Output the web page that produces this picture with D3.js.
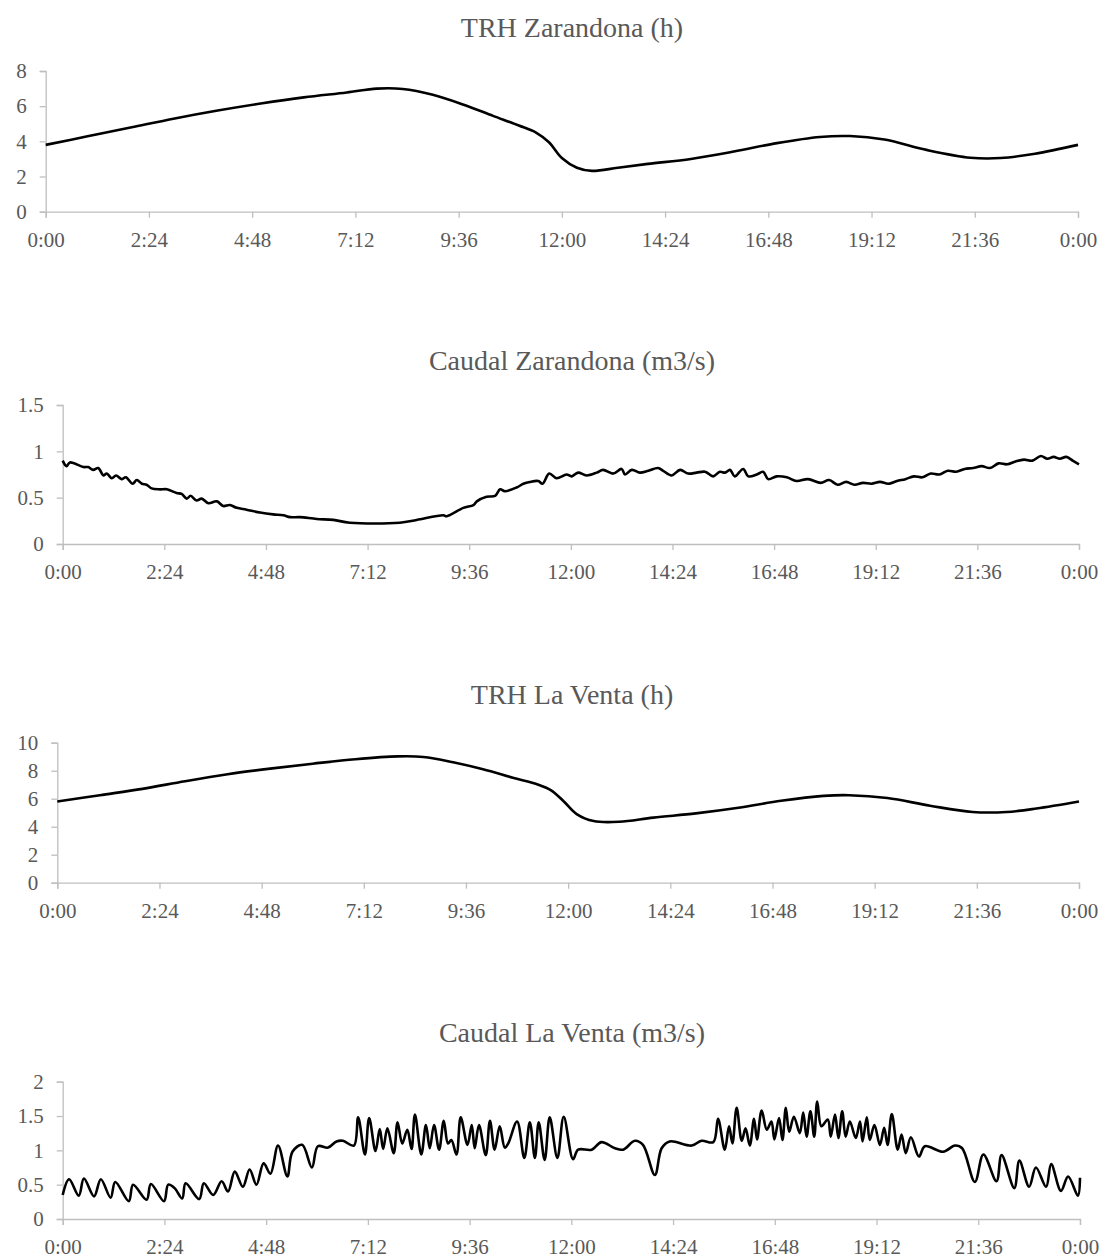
<!DOCTYPE html>
<html>
<head>
<meta charset="utf-8">
<script src="https://cdn.jsdelivr.net/npm/d3@7"></script>
<style>
  body { margin: 0; background: #fff; }
  text { font-family: "Liberation Serif", "Times New Roman", serif; }
</style>
</head>
<body>
<svg id="chart" width="1107" height="1260"></svg>
<script>
// time of day in hours (0 = 0:00, 24 = next 0:00)
const xTickHours = [0, 2.4, 4.8, 7.2, 9.6, 12, 14.4, 16.8, 19.2, 21.6, 24];
const xTickLabels = ['0:00', '2:24', '4:48', '7:12', '9:36', '12:00', '14:24', '16:48', '19:12', '21:36', '0:00'];

// TRH Zarandona (h)
const trhZarT = [0, 1, 2, 3, 4, 5, 6, 7, 7.7, 8.3, 9.0, 9.7, 10.4, 11, 11.4, 11.7, 12.0, 12.35, 12.7, 13.3, 14, 15, 16, 17, 18, 18.7, 19.5, 20.5, 21.5, 22.2, 23, 24];
const trhZarV = [3.8, 4.3, 4.8, 5.3, 5.75, 6.15, 6.5, 6.78, 7.0, 6.98, 6.65, 6.1, 5.45, 4.9, 4.5, 3.95, 3.05, 2.5, 2.32, 2.5, 2.72, 3.0, 3.42, 3.9, 4.25, 4.3, 4.1, 3.5, 3.07, 3.05, 3.3, 3.8];

// Caudal Zarandona (m3/s)
const caudalZarT = [0, 0.09, 0.17, 0.49, 0.6, 0.72, 0.84, 0.96, 1.04, 1.16, 1.26, 1.39, 1.49, 1.65, 1.75, 1.87, 1.98, 2.1, 2.3, 2.46, 2.69, 2.81, 2.93, 3.02, 3.16, 3.28, 3.44, 3.64, 3.79, 3.95, 4.11, 4.34, 4.66, 4.97, 5.21, 5.37, 5.6, 6.0, 6.39, 6.78, 7.96, 8.36, 8.99, 9.07, 9.46, 9.7, 9.78, 10.01, 10.21, 10.33, 10.44, 10.72, 10.88, 11.03, 11.23, 11.33, 11.49, 11.66, 11.9, 12.02, 12.17, 12.37, 12.61, 12.76, 13.0, 13.2, 13.28, 13.44, 13.63, 13.83, 14.06, 14.18, 14.38, 14.58, 14.77, 14.97, 15.17, 15.36, 15.52, 15.64, 15.76, 15.87, 16.07, 16.19, 16.39, 16.54, 16.66, 16.86, 17.1, 17.33, 17.6, 17.9, 18.1, 18.3, 18.5, 18.7, 18.9, 19.1, 19.3, 19.5, 19.7, 19.9, 20.1, 20.3, 20.5, 20.7, 20.9, 21.1, 21.3, 21.5, 21.7, 21.9, 22.1, 22.3, 22.5, 22.7, 22.9, 23.1, 23.25, 23.4, 23.55, 23.7, 23.85, 24];
const caudalZarV = [0.90, 0.84, 0.88, 0.83, 0.83, 0.80, 0.82, 0.74, 0.76, 0.71, 0.74, 0.70, 0.72, 0.65, 0.69, 0.65, 0.64, 0.60, 0.59, 0.59, 0.55, 0.54, 0.49, 0.52, 0.47, 0.49, 0.44, 0.46, 0.41, 0.42, 0.39, 0.37, 0.34, 0.32, 0.31, 0.29, 0.29, 0.27, 0.26, 0.23, 0.23, 0.26, 0.31, 0.30, 0.39, 0.42, 0.46, 0.51, 0.52, 0.59, 0.57, 0.61, 0.65, 0.67, 0.68, 0.65, 0.76, 0.71, 0.75, 0.73, 0.77, 0.74, 0.77, 0.80, 0.76, 0.81, 0.75, 0.80, 0.77, 0.79, 0.82, 0.79, 0.74, 0.80, 0.76, 0.77, 0.78, 0.73, 0.78, 0.77, 0.80, 0.73, 0.81, 0.73, 0.75, 0.78, 0.70, 0.73, 0.72, 0.68, 0.70, 0.66, 0.69, 0.64, 0.67, 0.64, 0.66, 0.65, 0.67, 0.65, 0.68, 0.70, 0.73, 0.72, 0.76, 0.75, 0.79, 0.78, 0.81, 0.82, 0.84, 0.82, 0.87, 0.86, 0.89, 0.91, 0.90, 0.95, 0.92, 0.94, 0.92, 0.94, 0.90, 0.86];

// TRH La Venta (h)
const trhVentaT = [0, 1, 2, 3, 4, 5, 6, 7, 8, 8.6, 9.3, 10, 10.7, 11.3, 11.6, 11.9, 12.2, 12.6, 13.2, 14, 15, 16, 17, 18, 18.6, 19.5, 20.5, 21.5, 22.3, 23, 24];
const trhVentaV = [5.8, 6.25, 6.7, 7.25, 7.75, 8.15, 8.5, 8.82, 9.02, 8.98, 8.6, 8.1, 7.5, 7.0, 6.6, 5.8, 4.9, 4.4, 4.35, 4.65, 4.95, 5.35, 5.85, 6.2, 6.25, 6.05, 5.5, 5.05, 5.05, 5.3, 5.8];

// Caudal La Venta (m3/s)
const caudalVentaT = [0, 0.15, 0.38, 0.5, 0.74, 0.9, 1.13, 1.24, 1.56, 1.66, 1.98, 2.08, 2.39, 2.49, 2.64, 2.82, 2.9, 3.22, 3.33, 3.55, 3.75, 3.9, 4.06, 4.25, 4.41, 4.57, 4.74, 4.9, 5.08, 5.3, 5.42, 5.65, 5.88, 6.02, 6.26, 6.46, 6.61, 6.87, 6.97, 7.13, 7.23, 7.38, 7.48, 7.56, 7.66, 7.81, 7.9, 8.01, 8.13, 8.23, 8.31, 8.46, 8.57, 8.66, 8.76, 8.88, 8.99, 9.09, 9.17, 9.29, 9.39, 9.55, 9.65, 9.72, 9.82, 9.98, 10.08, 10.19, 10.31, 10.43, 10.51, 10.72, 10.89, 11.02, 11.14, 11.23, 11.37, 11.49, 11.67, 11.82, 12.04, 12.16, 12.48, 12.71, 13.03, 13.22, 13.5, 13.69, 13.97, 14.13, 14.32, 14.84, 15.07, 15.35, 15.46, 15.62, 15.72, 15.8, 15.9, 16.02, 16.11, 16.21, 16.31, 16.38, 16.49, 16.61, 16.72, 16.79, 16.9, 16.98, 17.06, 17.14, 17.25, 17.39, 17.47, 17.55, 17.64, 17.73, 17.8, 17.9, 18.05, 18.12, 18.22, 18.3, 18.39, 18.47, 18.57, 18.71, 18.81, 18.87, 18.97, 19.04, 19.15, 19.28, 19.38, 19.46, 19.56, 19.7, 19.79, 19.89, 20.01, 20.2, 20.34, 20.77, 21.05, 21.22, 21.52, 21.72, 22.03, 22.15, 22.45, 22.57, 22.8, 22.96, 23.2, 23.32, 23.55, 23.72, 23.95, 24];
const caudalVentaV = [0.35, 0.58, 0.34, 0.59, 0.33, 0.58, 0.31, 0.54, 0.26, 0.50, 0.28, 0.51, 0.26, 0.50, 0.45, 0.30, 0.52, 0.29, 0.52, 0.35, 0.55, 0.40, 0.69, 0.47, 0.72, 0.50, 0.81, 0.66, 1.07, 0.62, 0.98, 1.08, 0.75, 1.06, 1.04, 1.13, 1.14, 1.07, 1.48, 0.94, 1.47, 0.99, 1.31, 1.02, 1.32, 0.96, 1.41, 1.10, 1.30, 1.02, 1.52, 0.94, 1.37, 1.03, 1.37, 1.01, 1.43, 1.10, 1.15, 0.94, 1.48, 1.08, 1.37, 1.03, 1.37, 0.93, 1.43, 1.01, 1.35, 1.04, 1.10, 1.42, 0.89, 1.41, 0.89, 1.41, 0.86, 1.48, 0.89, 1.49, 0.87, 1.01, 1.01, 1.12, 1.03, 1.01, 1.14, 1.08, 0.64, 1.03, 1.13, 1.07, 1.14, 1.12, 1.46, 1.01, 1.35, 1.10, 1.62, 1.14, 1.32, 1.07, 1.46, 1.16, 1.58, 1.30, 1.42, 1.16, 1.47, 1.15, 1.62, 1.27, 1.49, 1.25, 1.55, 1.20, 1.57, 1.20, 1.71, 1.35, 1.45, 1.20, 1.52, 1.18, 1.57, 1.20, 1.42, 1.18, 1.42, 1.13, 1.48, 1.15, 1.37, 1.08, 1.33, 1.08, 1.53, 1.01, 1.23, 0.96, 1.19, 0.91, 1.06, 0.98, 1.07, 1.03, 0.54, 0.94, 0.55, 0.93, 0.45, 0.85, 0.47, 0.75, 0.47, 0.80, 0.41, 0.62, 0.34, 0.60];

// layout of the four panels (pixel boxes)
const panels = [
  { title: 'TRH Zarandona (h)', t: trhZarT, v: trhZarV, yTicks: [0, 2, 4, 6, 8],
    left: 45.7, right: 1078, top: 71, bottom: 211.7, titleY: 27 },
  { title: 'Caudal Zarandona (m3/s)', t: caudalZarT, v: caudalZarV, yTicks: [0, 0.5, 1, 1.5],
    left: 62.7, right: 1079, top: 405, bottom: 544, titleY: 360 },
  { title: 'TRH La Venta (h)', t: trhVentaT, v: trhVentaV, yTicks: [0, 2, 4, 6, 8, 10],
    left: 57.3, right: 1079, top: 742.7, bottom: 882.7, titleY: 694 },
  { title: 'Caudal La Venta (m3/s)', t: caudalVentaT, v: caudalVentaV, yTicks: [0, 0.5, 1, 1.5, 2],
    left: 62.7, right: 1080, top: 1081.7, bottom: 1219, titleY: 1032 }
];

const svg = d3.select('#chart');
const axisColor = '#bfbfbf';
const textColor = '#595959';

panels.forEach(p => {
  const x = d3.scaleLinear().domain([0, 24]).range([p.left, p.right]);
  const y = d3.scaleLinear().domain([0, d3.max(p.yTicks)]).range([p.bottom, p.top]);
  const g = svg.append('g');

  // title
  g.append('text')
    .attr('x', 572)
    .attr('y', p.titleY)
    .attr('dy', '0.35em')
    .attr('text-anchor', 'middle')
    .attr('fill', textColor)
    .style('font-size', '28px')
    .text(p.title);

  // y axis
  const yAxis = g.append('g')
    .attr('transform', `translate(${p.left},0)`)
    .call(d3.axisLeft(y).tickValues(p.yTicks).tickFormat(d3.format('')).tickSize(6).tickPadding(13));

  // x axis
  const xAxis = g.append('g')
    .attr('transform', `translate(0,${p.bottom})`)
    .call(d3.axisBottom(x).tickValues(xTickHours)
      .tickFormat((d, i) => xTickLabels[i]).tickSize(6).tickPadding(14));

  [yAxis, xAxis].forEach(a => {
    a.select('.domain').attr('stroke', axisColor).attr('stroke-width', 1.3);
    a.selectAll('.tick line').attr('stroke', axisColor).attr('stroke-width', 1.3);
    a.selectAll('.tick text').attr('fill', textColor)
      .style('font-size', '21px')
      .style('font-family', '"Liberation Serif", "Times New Roman", serif');
  });

  // series line
  const pts = p.t.map((t, i) => [t, p.v[i]]);
  const line = d3.line()
    .x(d => x(d[0]))
    .y(d => y(d[1]))
    .curve(d3.curveCatmullRom.alpha(0.5));

  g.append('path')
    .datum(pts)
    .attr('fill', 'none')
    .attr('stroke', '#000')
    .attr('stroke-width', 2.6)
    .attr('stroke-linejoin', 'round')
    .attr('d', line);
});
</script>
</body>
</html>
